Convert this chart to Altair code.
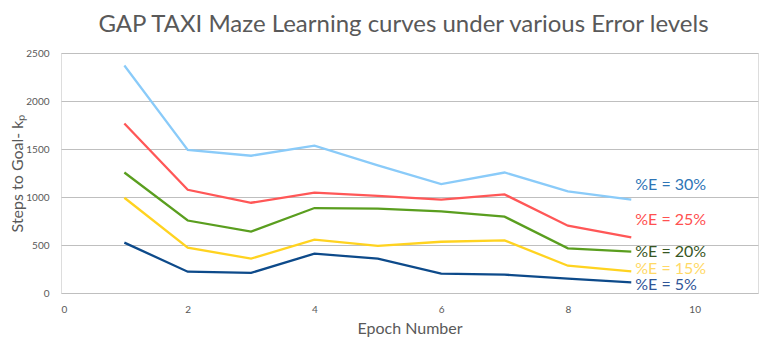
import altair as alt
import pandas as pd

epochs = [1, 2, 3, 4, 5, 6, 7, 8, 9]
series_names = ["%E = 30%", "%E = 25%", "%E = 20%", "%E = 15%", "%E = 5%"]
e30 = [2370, 1490, 1430, 1535, 1330, 1135, 1255, 1058, 972]
e25 = [1765, 1075, 940, 1045, 1012, 972, 1027, 701, 580]
e20 = [1255, 755, 640, 885, 878, 850, 795, 465, 430]
e15 = [992, 472, 358, 555, 490, 534, 548, 284, 225]
e5 = [525, 222, 210, 410, 357, 201, 191, 149, 111]
line_colors = ["#8ACBF9", "#FF5757", "#5A9E1F", "#FFD320", "#0D4A8A"]
label_colors = ["#2E75B6", "#FF5050", "#375623", "#FFD966", "#2F5597"]
label_x = [9, 9, 9, 9, 9]
label_y = [1130, 760, 430, 250, 85]

rows = []
for name, vals in zip(series_names, [e30, e25, e20, e15, e5]):
    for ep, v in zip(epochs, vals):
        rows.append({"series": name, "epoch": ep, "steps": v})
df = pd.DataFrame(rows)
lab = pd.DataFrame({"series": series_names, "x": label_x, "y": label_y})

xscale = alt.Scale(domain=[0, 11], nice=False)
yscale = alt.Scale(domain=[0, 2500], nice=False)
color = alt.Color("series:N", scale=alt.Scale(domain=series_names, range=line_colors), legend=None)

lines = alt.Chart(df).mark_line(strokeWidth=2.3).encode(
    x=alt.X("epoch:Q", scale=xscale,
            axis=alt.Axis(title="Epoch Number", values=[0, 2, 4, 6, 8, 10], format="d", grid=False,
                          ticks=False, domain=False, labelPadding=11, titlePadding=6,
                          labelFontSize=10, titleFontSize=16, labelColor="#595959",
                          titleColor="#595959", titleFont="Lato", titleFontWeight="normal",
                          labelFont="Lato")),
    y=alt.Y("steps:Q", scale=yscale,
            axis=alt.Axis(title="Steps to Goal- kₚ", values=[0, 500, 1000, 1500, 2000, 2500],
                          format="d", gridColor="#BFBFBF", gridWidth=1, ticks=False, domain=False,
                          labelPadding=12, titlePadding=0, labelFontSize=10, titleFontSize=16,
                          labelColor="#595959", titleColor="#595959", titleFont="Lato",
                          titleFontWeight="normal", labelFont="Lato")),
    color=color,
    detail="series:N",
)

labels = alt.Chart(lab).mark_text(align="left", baseline="middle", dx=4, fontSize=16, font="Lato").encode(
    x=alt.X("x:Q", scale=xscale),
    y=alt.Y("y:Q", scale=yscale),
    text="series:N",
    color=alt.Color("series:N", scale=alt.Scale(domain=series_names, range=label_colors), legend=None),
)

chart = alt.layer(lines, labels).resolve_scale(color="independent").properties(
    width=697, height=240,
    title=alt.TitleParams("GAP TAXI Maze Learning curves under various Error levels",
                          fontSize=24, font="Lato", fontWeight="normal", color="#595959",
                          anchor="middle", offset=11, dx=-6),
    autosize=alt.AutoSizeParams(type="none"),
    padding={"left": 53, "top": 45, "right": 2, "bottom": 50},
).configure_view(stroke="#BFBFBF", strokeWidth=1).configure(background="white")

chart.save("out.html", embed_options={"renderer": "svg", "actions": False})
